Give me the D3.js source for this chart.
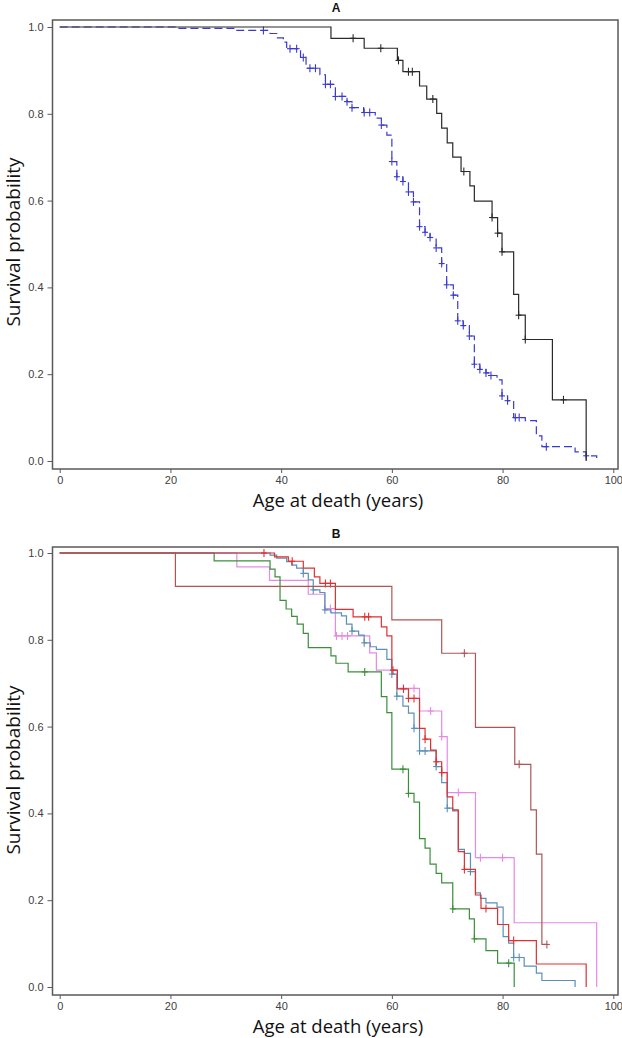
<!DOCTYPE html>
<html><head><meta charset="utf-8">
<script src="https://cdn.jsdelivr.net/npm/d3@7"></script>
<style>
body{margin:0;background:#fff;}
svg{display:block;}
</style></head>
<body>
<svg id="chart" width="622" height="1038"></svg>
<script>
// ---------- data ----------
const xTicks = [0, 20, 40, 60, 80, 100];
const yTicks = [0, 0.2, 0.4, 0.6, 0.8, 1.0];
const panelTitles = ["A", "B"];
const xTitle = "Age at death (years)";
const yTitle = "Survival probability";

// Panel A – solid black group
const aBlackTimes = [49, 55, 61, 62, 65, 66.3, 68.1, 69, 70, 71, 72.5, 74.1, 74.9, 78.1, 79.1, 79.9, 82, 82.9, 84.1, 89, 95.1];
const aBlackSurv  = [0.974, 0.951, 0.923, 0.897, 0.864, 0.834, 0.801, 0.767, 0.733, 0.700, 0.667, 0.634, 0.599, 0.561, 0.525, 0.482, 0.384, 0.336, 0.280, 0.141, 0.0];
const aBlackCens  = [53, 58, 61.2, 63, 63.7, 67.4, 73, 78.1, 79.1, 79.9, 82.9, 84.1, 91];
const aBlackEnd   = 95.1;

// Panel A – dashed blue group
const aBlueTimes = [21, 32, 38, 39.2, 40.4, 41, 43.5, 44.5, 47, 48, 49.8, 51.9, 52.8, 54.9, 57, 58.1, 59.1, 60, 60.9, 62, 63, 63.9, 65, 66, 66.9, 68, 69, 69.9, 71.1, 71.9, 72.9, 74, 74.9, 75.9, 77, 77.9, 79, 79.9, 80.9, 82, 84.1, 86.1, 87.1, 93.1, 95.1, 97];
const aBlueSurv  = [0.997, 0.992, 0.985, 0.975, 0.965, 0.950, 0.930, 0.905, 0.890, 0.868, 0.840, 0.828, 0.814, 0.803, 0.790, 0.774, 0.751, 0.690, 0.655, 0.644, 0.620, 0.597, 0.540, 0.527, 0.515, 0.491, 0.455, 0.406, 0.382, 0.323, 0.312, 0.288, 0.223, 0.211, 0.203, 0.197, 0.187, 0.150, 0.139, 0.100, 0.093, 0.058, 0.033, 0.021, 0.012, 0.0];
const aBlueCens  = [36.8, 41.6, 42.8, 44.0, 45.2, 46.2, 48.0, 48.9, 49.8, 51.0, 51.9, 52.8, 55.0, 56.0, 58.1, 60.0, 60.9, 62.0, 63.0, 63.9, 65.0, 66.0, 66.9, 68.0, 69.0, 69.9, 71.1, 71.9, 72.9, 74.0, 74.9, 75.9, 77.0, 77.9, 79.9, 80.9, 82.3, 83.0, 87.9, 95.1];
const aBlueEnd   = 97;

// Panel B – brown group
const bBrownTimes = [20.9, 60.0, 69.0, 75.1, 82.2, 85.1, 86.1, 87.1];
const bBrownSurv  = [0.923, 0.846, 0.769, 0.598, 0.513, 0.408, 0.306, 0.098];
const bBrownCens  = [73.1, 83.0, 88.0];
const bBrownEnd   = 88.0;

// Panel B – red group
const bRedTimes = [38.8, 41.3, 44.0, 46.0, 47.0, 49.8, 53.0, 58.1, 59.1, 60.0, 61.0, 63.0, 65.0, 66.0, 67.0, 68.0, 69.0, 70.0, 71.0, 72.0, 73.1, 75.1, 76.1, 79.1, 81.1, 86.1, 95.1];
const bRedSurv  = [0.991, 0.981, 0.965, 0.945, 0.930, 0.870, 0.853, 0.830, 0.809, 0.730, 0.687, 0.665, 0.596, 0.571, 0.546, 0.519, 0.494, 0.438, 0.408, 0.312, 0.271, 0.212, 0.181, 0.144, 0.107, 0.053, 0.0];
const bRedCens  = [36.9, 42.0, 48.0, 48.9, 55.1, 55.8, 60.2, 62.1, 63.0, 64.0, 66.0, 68.0, 69.0, 73.1, 77.0, 82.0];
const bRedEnd   = 95.1;

// Panel B – steel blue group
const bBlueTimes = [38.0, 39.2, 41.0, 41.9, 42.8, 44.0, 44.9, 45.8, 47.0, 47.9, 49.0, 50.9, 51.8, 52.8, 54.0, 55.0, 56.1, 57.2, 59.1, 60.0, 60.9, 62.0, 63.0, 64.0, 65.0, 68.0, 69.0, 70.0, 71.0, 72.0, 73.1, 74.2, 75.1, 76.0, 77.0, 79.0, 80.1, 81.1, 82.0, 83.9, 86.1, 87.1, 93.1];
const bBlueSurv  = [0.995, 0.988, 0.980, 0.972, 0.965, 0.953, 0.938, 0.915, 0.909, 0.869, 0.862, 0.855, 0.836, 0.820, 0.811, 0.793, 0.784, 0.778, 0.755, 0.721, 0.670, 0.647, 0.631, 0.596, 0.544, 0.508, 0.471, 0.412, 0.406, 0.317, 0.308, 0.266, 0.217, 0.204, 0.194, 0.184, 0.116, 0.101, 0.068, 0.048, 0.032, 0.015, 0.0];
const bBlueCens  = [44.0, 45.8, 47.9, 52.8, 55.0, 60.0, 60.9, 64.0, 65.0, 66.0, 68.0, 70.0, 74.2, 82.0, 83.0];
const bBlueEnd   = 93.1;

// Panel B – green group
const bGreenTimes = [27.9, 38.0, 38.9, 39.8, 40.9, 41.9, 42.9, 44.0, 44.9, 49.0, 49.9, 52.1, 58.1, 59.1, 60.0, 63.0, 64.0, 65.0, 66.0, 66.9, 68.0, 69.0, 71.0, 74.0, 74.9, 77.0, 79.1, 82.1];
const bGreenSurv  = [0.982, 0.963, 0.945, 0.891, 0.871, 0.854, 0.836, 0.815, 0.782, 0.763, 0.746, 0.726, 0.669, 0.632, 0.502, 0.446, 0.426, 0.342, 0.320, 0.283, 0.262, 0.240, 0.180, 0.157, 0.111, 0.084, 0.055, 0.0];
const bGreenCens  = [55.1, 62.0, 63.0, 71.0, 74.9, 81.1];
const bGreenEnd   = 82.1;

// Panel B – violet group
const bPinkTimes = [32.0, 37.9, 44.9, 47.9, 49.8, 56.0, 57.2, 61.0, 65.0, 69.0, 70.0, 75.1, 82.1, 97.0];
const bPinkSurv  = [0.968, 0.937, 0.905, 0.872, 0.809, 0.770, 0.730, 0.688, 0.636, 0.577, 0.448, 0.298, 0.148, 0.0];
const bPinkCens  = [48.9, 50.0, 51.0, 52.0, 62.1, 64.0, 67.0, 69.0, 72.0, 76.0, 80.0];
const bPinkEnd   = 97.0;

// ---------- drawing ----------
const svg = d3.select("#chart");
const frameL = 52.5, frameR = 618;
const x = d3.scaleLinear().domain([0, 100]).range([59.7, 613.3]);

function stepValue(times, surv, t) {
  let s = 1;
  for (let i = 0; i < times.length; i++) { if (times[i] <= t + 1e-9) s = surv[i]; }
  return s;
}

function drawPanel(opt) {
  const g = svg.append("g");
  const y = d3.scaleLinear().domain([0, 1]).range([opt.y0, opt.y1]);
  g.append("rect").attr("x", frameL).attr("y", opt.top)
    .attr("width", frameR - frameL).attr("height", opt.bottom - opt.top)
    .attr("fill", "none").attr("stroke", "#5a5a5a").attr("stroke-width", 1.5);
  const xa = g.append("g").attr("transform", `translate(0,${opt.bottom})`)
    .call(d3.axisBottom(x).tickValues(xTicks).tickFormat(d3.format("d")).tickSize(4).tickPadding(3));
  const ya = g.append("g").attr("transform", `translate(${frameL},0)`)
    .call(d3.axisLeft(y).tickValues(yTicks).tickFormat(d3.format(".1f")).tickSize(5).tickPadding(4));
  [xa, ya].forEach(a => {
    a.select(".domain").remove();
    a.selectAll(".tick line").attr("stroke", "#5a5a5a").attr("stroke-width", 1);
    a.selectAll(".tick text").attr("fill", "#404040")
      .style("font-family", "'Liberation Sans', Arial, sans-serif").style("font-size", "11px");
  });
  g.append("text").attr("x", 336).attr("y", opt.titleY).attr("text-anchor", "middle")
    .style("font-family", "'Liberation Sans', Arial, sans-serif").style("font-weight", "bold")
    .style("font-size", "12px").attr("fill", "#111").text(opt.title);
  g.append("text").attr("x", 338).attr("y", opt.bottom + 38).attr("text-anchor", "middle")
    .style("font-family", "'Open Sans', 'Noto Sans', sans-serif").style("font-size", "18.5px")
    .attr("fill", "#111").text(xTitle);
  g.append("text").attr("transform", `translate(20,${opt.yTitleY}) rotate(-90)`).attr("text-anchor", "middle")
    .style("font-family", "'Open Sans', 'Noto Sans', sans-serif").style("font-size", "19px")
    .attr("fill", "#111").text(yTitle);

  const line = d3.line().x(d => x(d[0])).y(d => y(d[1])).curve(d3.curveStepAfter);
  opt.series.forEach(s => {
    const pts = [[0, 1]];
    s.times.forEach((t, i) => pts.push([t, s.surv[i]]));
    const last = pts[pts.length - 1];
    if (s.end > last[0]) pts.push([s.end, last[1]]);
    g.append("path").attr("d", line(pts)).attr("fill", "none")
      .attr("stroke", s.color).attr("stroke-width", s.width || 1.2)
      .attr("stroke-dasharray", s.dash || null);
    const cg = g.append("g").attr("stroke", s.color).attr("stroke-width", 1.1);
    s.cens.forEach(t => {
      const cx = x(t), cy = y(stepValue(s.times, s.surv, t));
      cg.append("line").attr("x1", cx).attr("x2", cx).attr("y1", cy - 4).attr("y2", cy + 4);
      cg.append("line").attr("x1", cx - 3).attr("x2", cx + 3).attr("y1", cy).attr("y2", cy);
    });
  });
}

drawPanel({
  title: panelTitles[0], titleY: 12, top: 20, bottom: 469, y0: 461, y1: 27, yTitleY: 242,
  series: [
    { times: aBlueTimes, surv: aBlueSurv, cens: aBlueCens, end: aBlueEnd, color: "#3a3ad0", dash: "8,4" },
    { times: aBlackTimes, surv: aBlackSurv, cens: aBlackCens, end: aBlackEnd, color: "#2a2a2a" }
  ]
});
drawPanel({
  title: panelTitles[1], titleY: 538, top: 547, bottom: 995, y0: 987, y1: 553, yTitleY: 770,
  series: [
    { times: bPinkTimes, surv: bPinkSurv, cens: bPinkCens, end: bPinkEnd, color: "#e58ae5" },
    { times: bGreenTimes, surv: bGreenSurv, cens: bGreenCens, end: bGreenEnd, color: "#3a8f3a" },
    { times: bBlueTimes, surv: bBlueSurv, cens: bBlueCens, end: bBlueEnd, color: "#5b90b8" },
    { times: bRedTimes, surv: bRedSurv, cens: bRedCens, end: bRedEnd, color: "#e03030" },
    { times: bBrownTimes, surv: bBrownSurv, cens: bBrownCens, end: bBrownEnd, color: "#b05555" }
  ]
});
</script>
</body></html>
